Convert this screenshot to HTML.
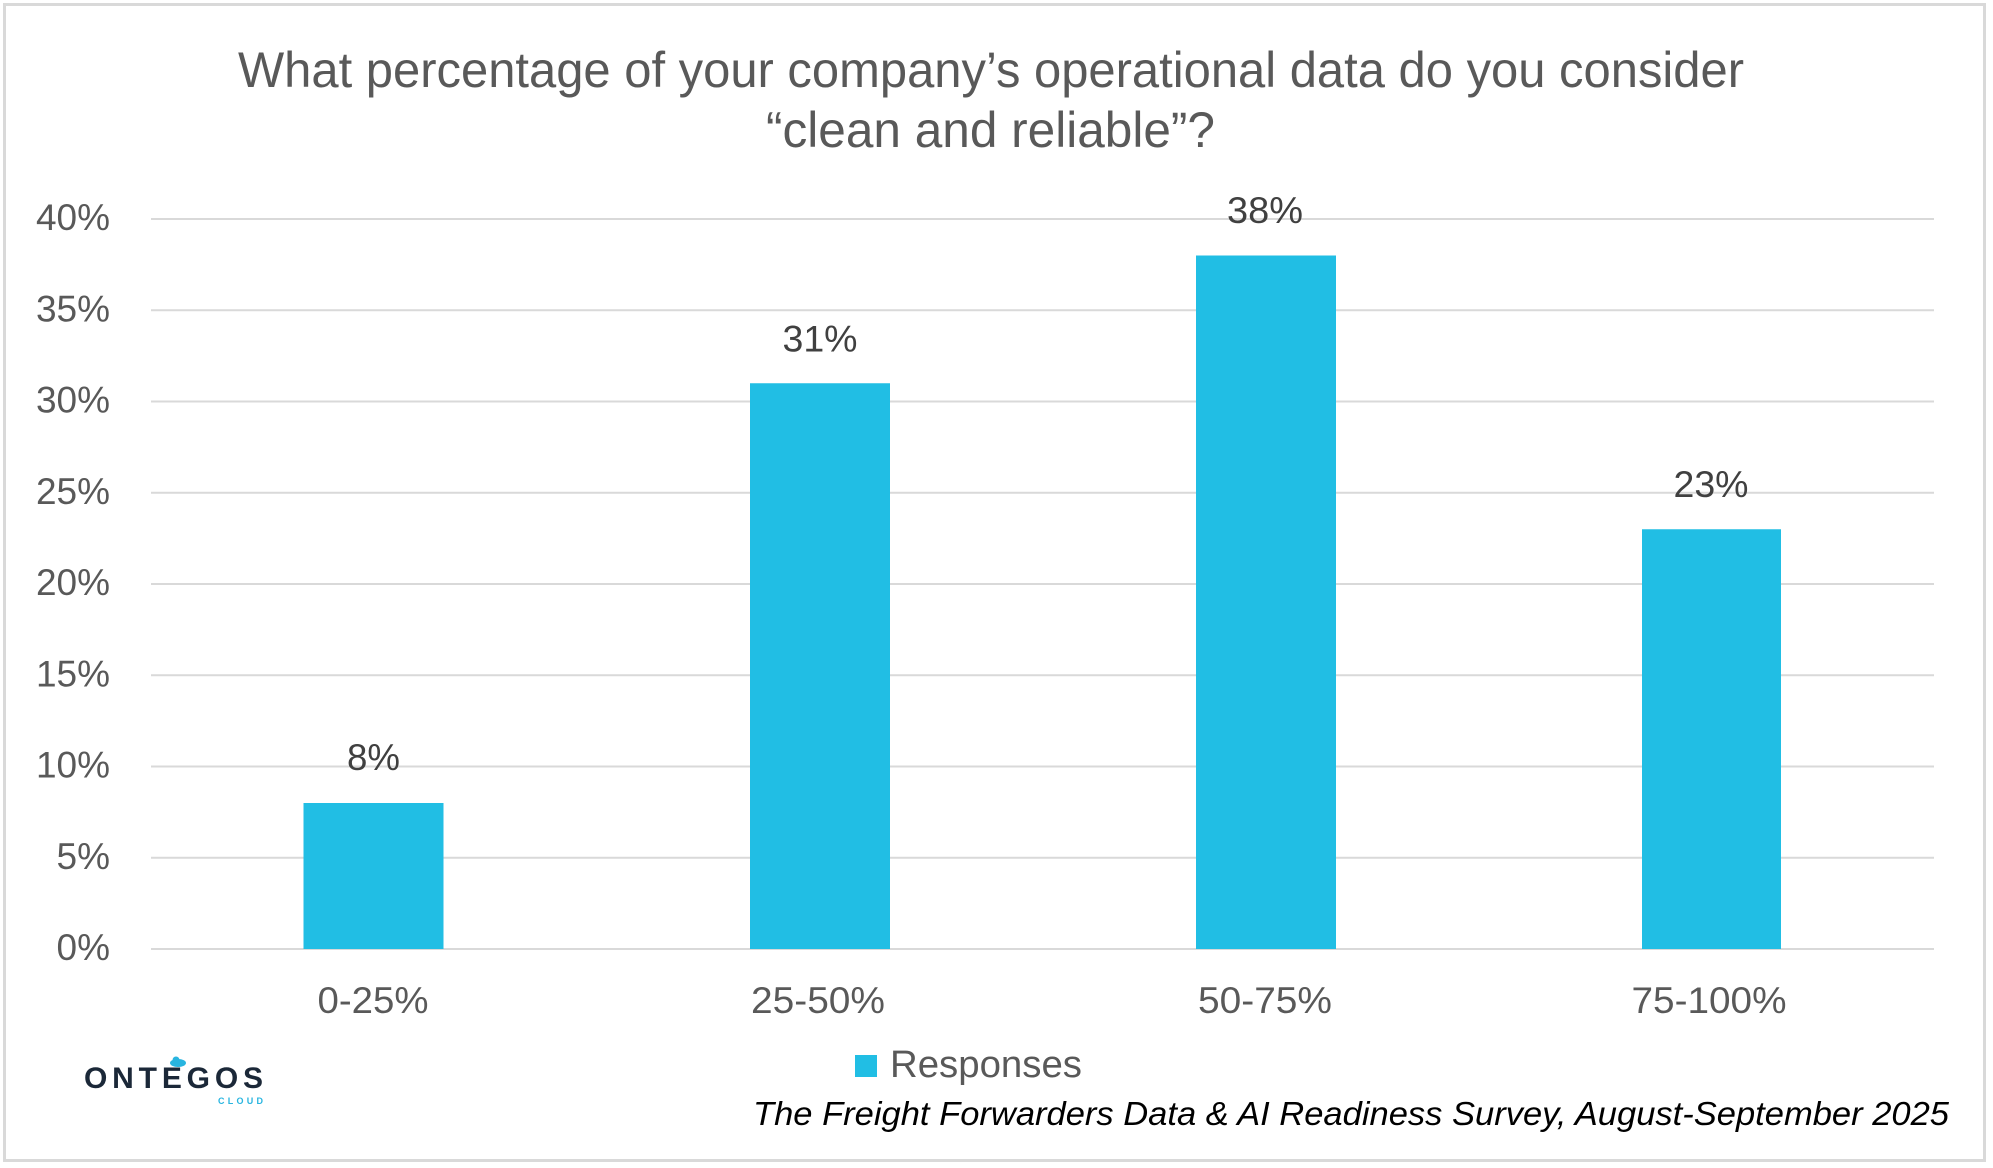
<!DOCTYPE html>
<html>
<head>
<meta charset="utf-8">
<style>
  html,body{margin:0;padding:0;background:#fff;}
  svg{display:block;}
  text{font-family:"Liberation Sans", Arial, sans-serif;}
</style>
</head>
<body>
<svg width="1993" height="1168" viewBox="0 0 1993 1168" xmlns="http://www.w3.org/2000/svg">
  <rect x="0" y="0" width="1993" height="1168" fill="#ffffff"/>
  <!-- outer border -->
  <rect x="4.5" y="4.5" width="1980" height="1156" fill="none" stroke="#d9d9d9" stroke-width="3"/>

  <!-- title -->
  <text x="991" y="87" font-size="50" fill="#595959" text-anchor="middle" textLength="1506" lengthAdjust="spacingAndGlyphs">What percentage of your company’s operational data do you consider</text>
  <text x="990.5" y="147" font-size="50" fill="#595959" text-anchor="middle" textLength="449" lengthAdjust="spacingAndGlyphs">“clean and reliable”?</text>

  <!-- gridlines -->
  <g stroke="#d9d9d9" stroke-width="2">
    <line x1="151" y1="219" x2="1934" y2="219"/>
    <line x1="151" y1="310.25" x2="1934" y2="310.25"/>
    <line x1="151" y1="401.5" x2="1934" y2="401.5"/>
    <line x1="151" y1="492.75" x2="1934" y2="492.75"/>
    <line x1="151" y1="584" x2="1934" y2="584"/>
    <line x1="151" y1="675.25" x2="1934" y2="675.25"/>
    <line x1="151" y1="766.5" x2="1934" y2="766.5"/>
    <line x1="151" y1="857.75" x2="1934" y2="857.75"/>
    <line x1="151" y1="949" x2="1934" y2="949"/>
  </g>

  <!-- y tick labels -->
  <g font-size="37" fill="#595959" text-anchor="end">
    <text x="110" y="230">40%</text>
    <text x="110" y="321.25">35%</text>
    <text x="110" y="412.5">30%</text>
    <text x="110" y="503.75">25%</text>
    <text x="110" y="595">20%</text>
    <text x="110" y="686.25">15%</text>
    <text x="110" y="777.5">10%</text>
    <text x="110" y="868.75">5%</text>
    <text x="110" y="960">0%</text>
  </g>

  <!-- bars -->
  <g fill="#21bee4">
    <rect x="303.5" y="803" width="140" height="146"/>
    <rect x="750" y="383.25" width="140" height="565.75"/>
    <rect x="1196" y="255.5" width="140" height="693.5"/>
    <rect x="1642" y="529.25" width="139" height="419.75"/>
  </g>

  <!-- data labels -->
  <g font-size="37" fill="#404040" text-anchor="middle">
    <text x="373.5" y="770" textLength="53" lengthAdjust="spacingAndGlyphs">8%</text>
    <text x="820" y="351.5" textLength="75" lengthAdjust="spacingAndGlyphs">31%</text>
    <text x="1265" y="223" textLength="76" lengthAdjust="spacingAndGlyphs">38%</text>
    <text x="1711" y="497" textLength="75" lengthAdjust="spacingAndGlyphs">23%</text>
  </g>

  <!-- x labels -->
  <g font-size="37" fill="#595959" text-anchor="middle">
    <text x="373" y="1013" textLength="111" lengthAdjust="spacingAndGlyphs">0-25%</text>
    <text x="818" y="1013" textLength="134" lengthAdjust="spacingAndGlyphs">25-50%</text>
    <text x="1265" y="1013" textLength="134" lengthAdjust="spacingAndGlyphs">50-75%</text>
    <text x="1709" y="1013" textLength="155" lengthAdjust="spacingAndGlyphs">75-100%</text>
  </g>

  <!-- legend -->
  <rect x="855" y="1055" width="22" height="22" fill="#21bee4"/>
  <text x="890" y="1077" font-size="38" fill="#595959" textLength="192" lengthAdjust="spacingAndGlyphs">Responses</text>

  <!-- footer -->
  <text x="753" y="1125" font-size="33" font-style="italic" fill="#000000" textLength="1196" lengthAdjust="spacingAndGlyphs">The Freight Forwarders Data &amp; AI Readiness Survey, August-September 2025</text>

  <!-- logo -->
  <g>
    <ellipse cx="178" cy="1063" rx="8" ry="4" fill="#29b5e0"/>
    <circle cx="176" cy="1060" r="3.5" fill="#29b5e0"/>
    <text x="84" y="1088" font-size="30" font-weight="bold" fill="#1b2838" textLength="179" lengthAdjust="spacing">ONTEGOS</text>
    <text x="218" y="1104" font-size="9" font-weight="bold" fill="#29b5e0" textLength="45" lengthAdjust="spacing">CLOUD</text>
  </g>
</svg>
</body>
</html>
